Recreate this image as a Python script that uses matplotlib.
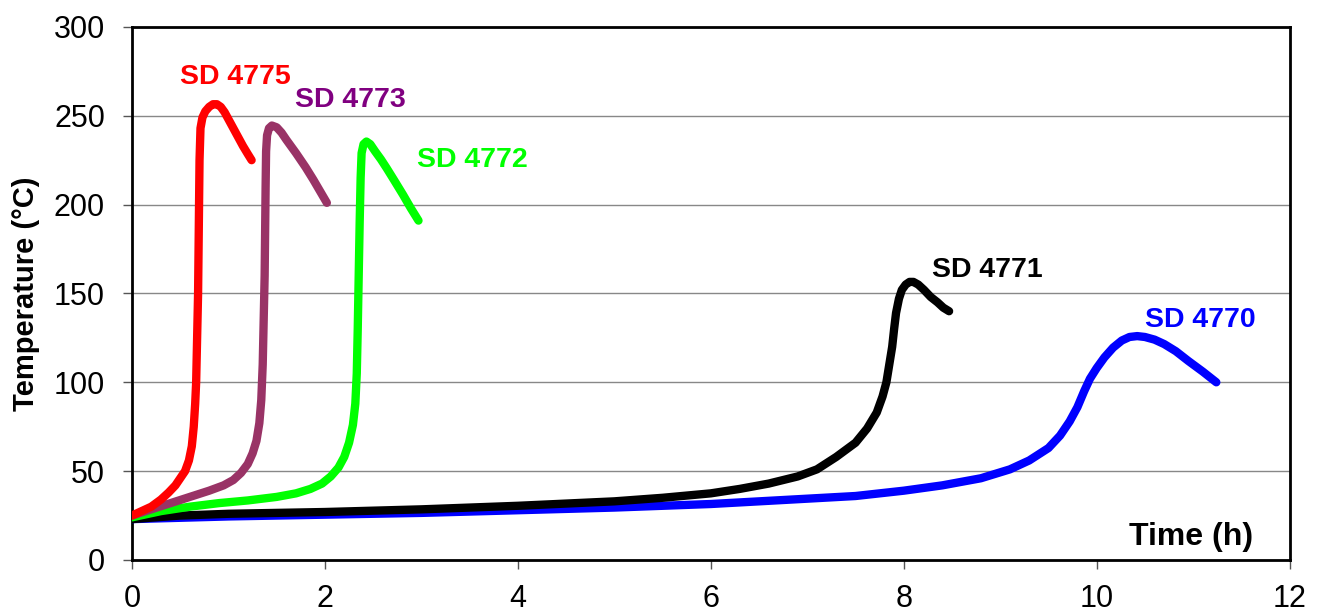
import numpy as np
import matplotlib.pyplot as plt
import matplotlib as mpl

mpl.rcParams['font.family'] = ['Liberation Sans', 'DejaVu Sans']

# temperature curves, time in h and temperature in degC
t_4775 = [0, 0.1, 0.2, 0.3, 0.38, 0.45, 0.5, 0.55, 0.59, 0.62, 0.64, 0.655, 0.665, 0.675, 0.685, 0.69, 0.695,
          0.70, 0.71, 0.73, 0.76, 0.80, 0.84, 0.88, 0.92, 0.96, 1.0, 1.05, 1.1, 1.15, 1.2, 1.24]
T_4775 = [25, 27.5, 30, 34, 38, 42, 46, 50, 56, 64, 75, 88, 100, 125, 150, 175, 200,
          225, 243, 249, 252.5, 255, 256.5, 256.5, 255, 252, 248, 243, 238, 233, 228.5, 225]

t_4773 = [0, 0.2, 0.4, 0.6, 0.8, 0.95, 1.05, 1.13, 1.2, 1.25, 1.29, 1.32, 1.34, 1.355, 1.365, 1.375, 1.38, 1.385,
          1.39, 1.40, 1.42, 1.45, 1.5, 1.55, 1.6, 1.7, 1.8, 1.88, 1.95, 2.02]
T_4773 = [25, 28.5, 32, 35.5, 39, 42, 45, 49, 54, 60, 67, 77, 90, 110, 135, 160, 185, 210,
          230, 239, 243, 244.5, 243.5, 240.5, 236.5, 229, 221, 214, 207.5, 201]

t_4772 = [0, 0.3, 0.6, 0.9, 1.2, 1.5, 1.7, 1.85, 1.97, 2.06, 2.14, 2.2, 2.25, 2.29, 2.315, 2.33, 2.34, 2.35,
          2.36, 2.37, 2.38, 2.4, 2.43, 2.47, 2.52, 2.58, 2.64, 2.72, 2.81, 2.89, 2.97]
T_4772 = [24, 27.5, 30, 32, 33.5, 35.5, 37.5, 40, 43, 47, 52, 58, 66, 76, 88, 105, 130, 160,
          190, 215, 229, 234, 235.5, 234, 230, 225.5, 220.5, 213.5, 205.5, 198, 191]

t_4771 = [0, 0.5, 1, 2, 3, 4, 5, 5.5, 6, 6.3, 6.6, 6.9, 7.1, 7.3, 7.5, 7.62, 7.72, 7.78, 7.82, 7.85, 7.88, 7.9,
          7.92, 7.95, 7.98, 8.02, 8.06, 8.1, 8.15, 8.21, 8.28, 8.35, 8.41, 8.47]
T_4771 = [23, 25, 26, 27, 28.5, 30.5, 33, 35, 37.5, 40, 43, 47, 51, 58, 66, 74, 83, 92, 100, 110, 120, 130,
          139, 147, 152, 155, 156.5, 156.5, 155, 152, 148, 145, 142, 140]

t_4770 = [0, 1, 2, 3, 4, 5, 6, 6.5, 7, 7.5, 8, 8.4, 8.8, 9.1, 9.3, 9.5, 9.62, 9.72, 9.8, 9.87, 9.93, 10.0, 10.08,
          10.17, 10.26, 10.34, 10.42, 10.5, 10.6, 10.7, 10.82, 10.95, 11.1, 11.24]
T_4770 = [23, 24.5, 25.5, 26.5, 28, 29.5, 31.5, 33, 34.5, 36, 39, 42, 46, 51, 56, 63, 70, 78, 86, 95, 102, 108, 114,
          119.5, 123.5, 125.5, 126, 125.5, 124, 121.5, 117.5, 112, 106, 100]

fig = plt.figure(figsize=(13.2, 6.12), dpi=100)
ax = fig.add_axes([0.1, 0.085, 0.877, 0.871])

lw = 6
style = dict(lw=lw, solid_capstyle='round', solid_joinstyle='round')
ax.plot(t_4770, T_4770, color='#0000ff', zorder=3, **style)
ax.plot(t_4771, T_4771, color='black', zorder=4, **style)
ax.plot(t_4772, T_4772, color='#00ff00', zorder=5, **style)
ax.plot(t_4773, T_4773, color='#993366', zorder=5, **style)
ax.plot(t_4775, T_4775, color='#ff0000', zorder=5, **style)

lab = dict(fontsize=20.5, fontweight='bold', ha='center', va='center')
ax.text(1.07, 272, 'SD 4775', color='#ff0000', **lab)
ax.text(2.26, 259, 'SD 4773', color='#800080', **lab)
ax.text(3.53, 225, 'SD 4772', color='#00ff00', **lab)
ax.text(8.87, 163, 'SD 4771', color='black', **lab)
ax.text(11.07, 135, 'SD 4770', color='#0000ff', **lab)
ax.text(11.62, 13, 'Time (h)', color='black', fontsize=23, fontweight='bold', ha='right', va='center')

ax.set_xlim(0, 12)
ax.set_ylim(0, 300)
ax.set_xticks(np.arange(0, 13, 2))
ax.set_yticks(np.arange(0, 301, 50))
ax.tick_params(labelsize=22, direction='out', length=6.5, width=1, color='#555555')
ax.tick_params(axis='y', pad=13)
ax.tick_params(axis='x', pad=11)
ax.set_ylabel('Temperature (°C)', fontsize=21, fontweight='bold', labelpad=10)
ax.yaxis.grid(True, color='#888888', lw=1)
ax.set_axisbelow(True)
for s in ax.spines.values():
    s.set_linewidth(2)

fig.savefig('out.png', dpi=100)
